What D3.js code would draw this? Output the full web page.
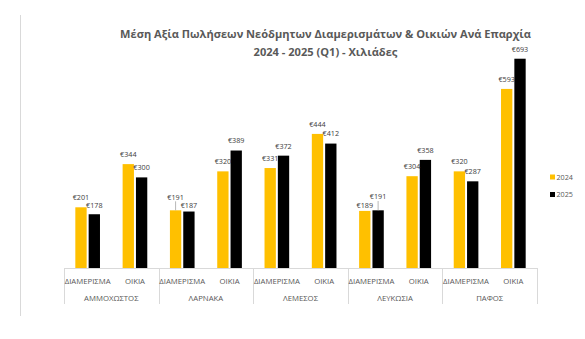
<!DOCTYPE html>
<html>
<head>
<meta charset="utf-8">
<script src="https://cdn.jsdelivr.net/npm/d3@7"></script>
<style>
  html, body { margin: 0; padding: 0; background: #fff; }
  svg { display: block; }
  text { font-family: "Open Sans", "Noto Sans", sans-serif; }
</style>
</head>
<body>
<svg id="chart" width="585" height="339"></svg>
<script>
// Average sale value of new apartments & houses per district (thousands €)
const provinces = ["ΑΜΜΟΧΩΣΤΟΣ", "ΛΑΡΝΑΚΑ", "ΛΕΜΕΣΟΣ", "ΛΕΥΚΩΣΙΑ", "ΠΑΦΟΣ"];
const types = ["ΔΙΑΜΕΡΙΣΜΑ", "ΟΙΚΙΑ"];
const years = ["2024", "2025"];
// values in province order, apartment then house
const values2024 = [201, 344, 191, 320, 331, 444, 189, 304, 320, 593];
const values2025 = [178, 300, 187, 389, 372, 412, 191, 358, 287, 693];
const titleLines = [
  "Μέση Αξία Πωλήσεων Νεόδμητων Διαμερισμάτων & Οικιών Ανά Επαρχία",
  "2024 - 2025 (Q1) - Χιλιάδες"
];

const colors = d3.scaleOrdinal().domain(years).range(["#FFC000", "#000000"]);

const svg = d3.select("#chart");
const baseY = 268;

// Flatten into one record per bar
const rows = [];
provinces.forEach((p, i) => {
  types.forEach((t, j) => {
    const k = i * types.length + j;
    rows.push({ province: p, type: t, year: years[0], value: values2024[k] });
    rows.push({ province: p, type: t, year: years[1], value: values2025[k] });
  });
});

const x0 = d3.scaleBand().domain(provinces).range([64, 537]).padding(0);
const x1 = d3.scaleBand().domain(types).range([0, x0.bandwidth()]).padding(0);
const x2 = d3.scaleBand().domain(years).range([0, x1.bandwidth()])
  .paddingInner(0.15).paddingOuter(0.85);
const y = d3.scaleLinear().domain([0, 700]).range([baseY, baseY - 700 * 0.302]);

const barX = d => x0(d.province) + x1(d.type) + x2(d.year);

// helper: font size that makes a sample string reach a given width
function fitSize(sample, width, weight) {
  const t = svg.append("text").attr("font-size", 20).attr("font-weight", weight || "normal").text(sample);
  const w = t.node().getComputedTextLength();
  t.remove();
  return 20 * width / w;
}

// left frame edge
svg.append("line")
  .attr("x1", 20.5).attr("x2", 20.5).attr("y1", 15).attr("y2", 316)
  .attr("stroke", "#d9d9d9").attr("stroke-width", 1);

// title
const titleSize = fitSize(titleLines[0], 411, "bold");
svg.append("g").selectAll("text").data(titleLines).join("text")
  .attr("x", 325.5)
  .attr("y", (d, i) => i === 0 ? 37.5 : 55.5)
  .attr("text-anchor", "middle")
  .attr("font-weight", "bold")
  .attr("font-size", titleSize)
  .attr("fill", "#595959")
  .text(d => d);

// bars
svg.append("g").selectAll("rect").data(rows).join("rect")
  .attr("x", barX)
  .attr("width", x2.bandwidth())
  .attr("y", d => y(d.value))
  .attr("height", d => baseY - y(d.value))
  .attr("fill", d => colors(d.year));

// category axis: baseline, group separators and two label rows
const axis = svg.append("g");
axis.append("line")
  .attr("x1", x0.range()[0]).attr("x2", x0.range()[1])
  .attr("y1", baseY + 0.5).attr("y2", baseY + 0.5)
  .attr("stroke", "#d9d9d9");
const seps = provinces.map(p => x0(p)).concat([x0.range()[1]]);
axis.selectAll("line.sep").data(seps).join("line")
  .attr("class", "sep")
  .attr("x1", d => Math.round(d) + 0.5).attr("x2", d => Math.round(d) + 0.5)
  .attr("y1", baseY).attr("y2", 304)
  .attr("stroke", "#d9d9d9");

const axisSize = fitSize("ΔΙΑΜΕΡΙΣΜΑ", 46);
const subCats = [];
provinces.forEach(p => types.forEach(t => subCats.push({ p, t })));
axis.selectAll("text.sub").data(subCats).join("text")
  .attr("class", "sub")
  .attr("x", d => x0(d.p) + x1(d.t) + x1.bandwidth() / 2)
  .attr("y", 283.6)
  .attr("text-anchor", "middle")
  .attr("font-size", axisSize)
  .attr("fill", "#595959")
  .text(d => d.t);
axis.selectAll("text.grp").data(provinces).join("text")
  .attr("class", "grp")
  .attr("x", d => x0(d) + x0.bandwidth() / 2)
  .attr("y", 301)
  .attr("text-anchor", "middle")
  .attr("font-size", axisSize)
  .attr("fill", "#595959")
  .text(d => d);

// data labels: centred above each bar, pulled apart when a pair collides
const labelSize = fitSize("€000", 16.5);
const labels = rows.map(d => ({
  d,
  cx: barX(d) + x2.bandwidth() / 2,
  top: y(d.value),
  mid: y(d.value) - 10
}));
for (let i = 0; i < labels.length; i += 2) {
  const a = labels[i], b = labels[i + 1];
  const minGap = 8.2;
  if (Math.abs(a.mid - b.mid) < minGap) {
    const m = (a.mid + b.mid) / 2;
    const hi = a.d.value >= b.d.value ? a : b;
    const lo = hi === a ? b : a;
    hi.mid = m - minGap / 2;
    lo.mid = m + minGap / 2;
  }
}
const lab = svg.append("g");
// leader lines for labels pushed well clear of their bar
lab.selectAll("line").data(labels.filter(l => l.top - l.mid > 13)).join("line")
  .attr("x1", l => l.cx).attr("x2", l => l.cx)
  .attr("y1", l => l.mid + 4.5).attr("y2", l => l.top)
  .attr("stroke", "#a6a6a6").attr("stroke-width", 0.8);
lab.selectAll("text").data(labels).join("text")
  .attr("x", l => l.cx)
  .attr("y", l => l.mid + 2.9)
  .attr("text-anchor", "middle")
  .attr("font-size", labelSize)
  .attr("fill", "#404040")
  .text(l => "€" + l.d.value);

// legend
const legend = svg.append("g").selectAll("g").data(years).join("g")
  .attr("transform", (d, i) => `translate(550, ${177 + i * 17.5})`);
legend.append("rect")
  .attr("x", 0).attr("y", -2.5).attr("width", 5).attr("height", 5)
  .attr("fill", d => colors(d));
legend.append("text")
  .attr("x", 6.5).attr("y", 2.9)
  .attr("font-size", labelSize)
  .attr("fill", "#595959")
  .text(d => d);
</script>
</body>
</html>
